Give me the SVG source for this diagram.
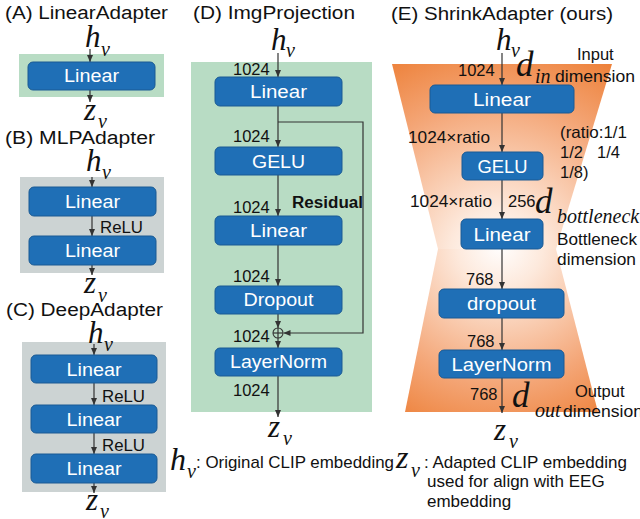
<svg xmlns="http://www.w3.org/2000/svg" width="640" height="519" viewBox="0 0 640 519">
<style>
.title{font-family:"Liberation Sans",Arial,sans-serif;font-size:18px;fill:#111}
.lbl{font-family:"Liberation Sans",Arial,sans-serif;font-size:17.5px;fill:#fff;text-anchor:middle}
.sm{font-family:"Liberation Sans",Arial,sans-serif;font-size:16.5px;fill:#111}
.lg{font-family:"Liberation Sans",Arial,sans-serif;font-size:17px;fill:#111}
.math{font-family:"Liberation Serif","Times New Roman",serif;font-style:italic;fill:#111}
.node{fill:#1f6fb6;stroke:#1a5a94;stroke-width:1}
.green{fill:#b8dcc4}
.gray{fill:#ccd3d3}
.conn line,.conn path{stroke:#333;stroke-width:1.2;fill:none}
</style>
<defs>
<marker id="ah" markerWidth="7" markerHeight="6" refX="7" refY="3" orient="auto" markerUnits="userSpaceOnUse">
<path d="M0,0 L7,3 L0,6 z" fill="#333"/>
</marker>
<radialGradient id="gTop" gradientUnits="userSpaceOnUse" cx="497" cy="255" r="235">
<stop offset="0" stop-color="#ffffff"/>
<stop offset="0.2" stop-color="#fde9dc"/>
<stop offset="0.65" stop-color="#f4a677"/>
<stop offset="1" stop-color="#ec7a2e"/>
</radialGradient>
<radialGradient id="gBot" gradientUnits="userSpaceOnUse" cx="500" cy="245" r="215">
<stop offset="0" stop-color="#ffffff"/>
<stop offset="0.2" stop-color="#fde9dc"/>
<stop offset="0.65" stop-color="#f4a677"/>
<stop offset="1" stop-color="#ec7a2e"/>
</radialGradient>
</defs>

<!-- backgrounds -->
<rect class="green" x="19" y="54" width="145" height="43"/>
<rect class="gray" x="20" y="177" width="144" height="96"/>
<rect class="gray" x="22" y="342" width="144" height="150"/>
<rect class="green" x="191" y="62" width="181" height="350"/>
<polygon points="392,64 612,64 556,249 438,249" fill="url(#gTop)"/>
<polygon points="438,249 556,249 598,412 405,412" fill="url(#gBot)"/>

<!-- titles -->
<text class="title" x="5" y="19" textLength="163" lengthAdjust="spacingAndGlyphs">(A) LinearAdapter</text>
<text class="title" x="5" y="144" textLength="150" lengthAdjust="spacingAndGlyphs">(B) MLPAdapter</text>
<text class="title" x="6" y="316" textLength="157" lengthAdjust="spacingAndGlyphs">(C) DeepAdapter</text>
<text class="title" x="193" y="19" textLength="162" lengthAdjust="spacingAndGlyphs">(D) ImgProjection</text>
<text class="title" x="391" y="20" textLength="222" lengthAdjust="spacingAndGlyphs">(E) ShrinkAdapter (ours)</text>

<!-- math symbols -->
<g class="math">
<text x="85" y="47" font-size="31">h</text><text x="101" y="56" font-size="20">v</text>
<text x="84" y="120" font-size="31">z</text><text x="98" y="128" font-size="20">v</text>
<text x="86" y="171" font-size="31">h</text><text x="102" y="179" font-size="20">v</text>
<text x="84" y="293" font-size="31">z</text><text x="98" y="302" font-size="20">v</text>
<text x="88" y="343" font-size="31">h</text><text x="104" y="351" font-size="20">v</text>
<text x="86" y="510" font-size="31">z</text><text x="100" y="518" font-size="20">v</text>
<text x="271" y="50" font-size="31">h</text><text x="286" y="57" font-size="20">v</text>
<text x="268" y="437" font-size="31">z</text><text x="283" y="445" font-size="20">v</text>
<text x="496" y="50" font-size="31">h</text><text x="511" y="57" font-size="20">v</text>
<text x="494" y="440" font-size="31">z</text><text x="509" y="448" font-size="20">v</text>
<text x="516" y="76" font-size="35">d</text><text x="535" y="83" font-size="20">in</text>
<text x="535" y="213" font-size="35">d</text><text x="557" y="223" font-size="20">bottleneck</text>
<text x="512" y="407" font-size="35">d</text><text x="535" y="417" font-size="20">out</text>
<text x="170" y="470" font-size="32">h</text><text x="187" y="478" font-size="20">v</text>
<text x="396" y="468" font-size="32">z</text><text x="411" y="477" font-size="20">v</text>
</g>

<!-- connectors -->
<g id="connectors" class="conn">
<line x1="90" y1="49" x2="90" y2="62" marker-end="url(#ah)"/>
<line x1="90" y1="90" x2="90" y2="102" marker-end="url(#ah)"/>
<line x1="92" y1="177" x2="92" y2="187" marker-end="url(#ah)"/>
<line x1="92" y1="216" x2="92" y2="236" marker-end="url(#ah)"/>
<line x1="92" y1="265" x2="92" y2="275" marker-end="url(#ah)"/>
<line x1="94" y1="344" x2="94" y2="355" marker-end="url(#ah)"/>
<line x1="94" y1="383" x2="94" y2="405" marker-end="url(#ah)"/>
<line x1="94" y1="433" x2="94" y2="454" marker-end="url(#ah)"/>
<line x1="94" y1="483" x2="94" y2="493" marker-end="url(#ah)"/>
<line x1="278" y1="53" x2="278" y2="77" marker-end="url(#ah)"/>
<line x1="278" y1="106" x2="278" y2="147" marker-end="url(#ah)"/>
<line x1="278" y1="175" x2="278" y2="216" marker-end="url(#ah)"/>
<line x1="278" y1="245" x2="278" y2="286" marker-end="url(#ah)"/>
<line x1="278" y1="314" x2="278" y2="328" marker-end="url(#ah)"/>
<line x1="278" y1="338" x2="278" y2="348" marker-end="url(#ah)"/>
<line x1="278" y1="376" x2="278" y2="417" marker-end="url(#ah)"/>
<path d="M278,122 H363 V333 H283.5" marker-end="url(#ah)"/>
<circle cx="278" cy="333" r="5" stroke="#333" stroke-width="1.1" fill="none"/>
<line x1="273" y1="333" x2="283" y2="333" stroke-width="1"/>
<line x1="278" y1="328" x2="278" y2="338" stroke-width="1"/>
<line x1="502" y1="53" x2="502" y2="85" marker-end="url(#ah)"/>
<line x1="502" y1="113" x2="502" y2="152" marker-end="url(#ah)"/>
<line x1="502" y1="180" x2="502" y2="219" marker-end="url(#ah)"/>
<line x1="502" y1="249" x2="502" y2="289" marker-end="url(#ah)"/>
<line x1="502" y1="318" x2="502" y2="350" marker-end="url(#ah)"/>
<line x1="502" y1="378" x2="502" y2="413" marker-end="url(#ah)"/>
</g>

<!-- nodes A -->
<g id="a-linear"><rect class="node" x="28" y="62" width="127" height="28" rx="5"/><text class="lbl" x="91.5" y="82" textLength="55" lengthAdjust="spacingAndGlyphs">Linear</text></g>
<!-- nodes B -->
<g id="b-linear1"><rect class="node" x="29" y="187" width="127" height="29" rx="5"/><text class="lbl" x="92.5" y="208" textLength="55" lengthAdjust="spacingAndGlyphs">Linear</text></g>
<g id="b-linear2"><rect class="node" x="29" y="236" width="127" height="29" rx="5"/><text class="lbl" x="92.5" y="257" textLength="55" lengthAdjust="spacingAndGlyphs">Linear</text></g>
<text class="sm" x="100" y="233" textLength="43" lengthAdjust="spacingAndGlyphs">ReLU</text>
<!-- nodes C -->
<g id="c-linear1"><rect class="node" x="31" y="355" width="126" height="28" rx="5"/><text class="lbl" x="94" y="376" textLength="55" lengthAdjust="spacingAndGlyphs">Linear</text></g>
<g id="c-linear2"><rect class="node" x="31" y="405" width="126" height="28" rx="5"/><text class="lbl" x="94" y="426" textLength="55" lengthAdjust="spacingAndGlyphs">Linear</text></g>
<g id="c-linear3"><rect class="node" x="31" y="454" width="126" height="29" rx="5"/><text class="lbl" x="94" y="475" textLength="55" lengthAdjust="spacingAndGlyphs">Linear</text></g>
<text class="sm" x="102" y="402" textLength="43" lengthAdjust="spacingAndGlyphs">ReLU</text>
<text class="sm" x="102" y="451" textLength="43" lengthAdjust="spacingAndGlyphs">ReLU</text>

<!-- nodes D -->
<g id="d-linear1"><rect class="node" x="215" y="77" width="127" height="29" rx="5"/><text class="lbl" x="278.5" y="98" textLength="57" lengthAdjust="spacingAndGlyphs">Linear</text></g>
<g id="d-gelu"><rect class="node" x="215" y="147" width="127" height="28" rx="5"/><text class="lbl" x="278.5" y="168" textLength="53" lengthAdjust="spacingAndGlyphs">GELU</text></g>
<g id="d-linear2"><rect class="node" x="215" y="216" width="127" height="29" rx="5"/><text class="lbl" x="278.5" y="237" textLength="57" lengthAdjust="spacingAndGlyphs">Linear</text></g>
<g id="d-dropout"><rect class="node" x="215" y="286" width="127" height="28" rx="5"/><text class="lbl" x="278.5" y="306" textLength="70" lengthAdjust="spacingAndGlyphs">Dropout</text></g>
<g id="d-layernorm"><rect class="node" x="215" y="348" width="127" height="28" rx="5"/><text class="lbl" x="278.5" y="368" textLength="97" lengthAdjust="spacingAndGlyphs">LayerNorm</text></g>
<g class="sm">
<text x="233" y="75">1024</text>
<text x="233" y="142">1024</text>
<text x="233" y="213">1024</text>
<text x="233" y="282">1024</text>
<text x="233" y="342">1024</text>
<text x="233" y="396">1024</text>
</g>
<text x="292" y="208" font-family="Liberation Sans,Arial,sans-serif" font-weight="bold" font-size="16" fill="#111" textLength="71" lengthAdjust="spacingAndGlyphs">Residual</text>

<!-- nodes E -->
<g id="e-linear1"><rect class="node" x="430" y="85" width="144" height="28" rx="5"/><text class="lbl" x="502" y="106" textLength="58" lengthAdjust="spacingAndGlyphs">Linear</text></g>
<g id="e-gelu"><rect class="node" x="462" y="152" width="81" height="28" rx="5"/><text class="lbl" x="502.5" y="173" textLength="50" lengthAdjust="spacingAndGlyphs">GELU</text></g>
<g id="e-linear2"><rect class="node" x="461" y="219" width="82" height="30" rx="5"/><text class="lbl" x="502" y="241" textLength="57" lengthAdjust="spacingAndGlyphs">Linear</text></g>
<g id="e-dropout"><rect class="node" x="439" y="289" width="125" height="29" rx="5"/><text class="lbl" x="501.5" y="310" textLength="69" lengthAdjust="spacingAndGlyphs">dropout</text></g>
<g id="e-layernorm"><rect class="node" x="439" y="350" width="125" height="28" rx="5"/><text class="lbl" x="501.5" y="371" textLength="100" lengthAdjust="spacingAndGlyphs">LayerNorm</text></g>
<g class="sm">
<text x="458" y="76">1024</text>
<text x="408" y="143" textLength="82" lengthAdjust="spacingAndGlyphs">1024×ratio</text>
<text x="410" y="207" textLength="82" lengthAdjust="spacingAndGlyphs">1024×ratio</text>
<text x="508" y="207">256</text>
<text x="466" y="285">768</text>
<text x="467" y="347">768</text>
<text x="470" y="400">768</text>
<text x="560" y="138" textLength="67" lengthAdjust="spacingAndGlyphs">(ratio:1/1</text>
<text x="560" y="158">1/2</text>
<text x="597" y="158">1/4</text>
<text x="560" y="178">1/8)</text>
<text x="577" y="60">Input</text>
<text x="555" y="82" textLength="80" lengthAdjust="spacingAndGlyphs">dimension</text>
<text x="557" y="245" textLength="80" lengthAdjust="spacingAndGlyphs">Bottleneck</text>
<text x="557" y="265" textLength="79" lengthAdjust="spacingAndGlyphs">dimension</text>
<text x="575" y="397">Output</text>
<text x="563" y="417" textLength="80" lengthAdjust="spacingAndGlyphs">dimension</text>
</g>

<!-- legend -->
<text class="lg" x="196" y="468" textLength="198" lengthAdjust="spacingAndGlyphs">: Original CLIP embedding</text>
<text class="lg" x="424" y="468">: Adapted CLIP embedding</text>
<text class="lg" x="427" y="487">used for align with EEG</text>
<text class="lg" x="427" y="507">embedding</text>
</svg>
